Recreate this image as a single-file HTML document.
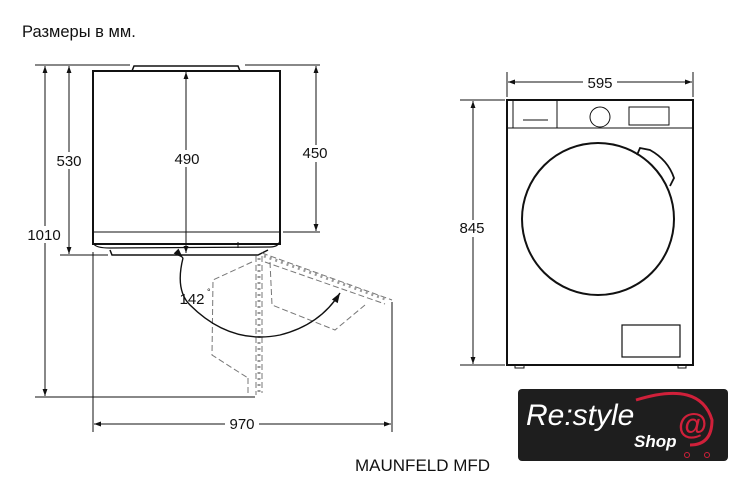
<!DOCTYPE html>
<html><head><meta charset="utf-8"><style>
body{margin:0;background:#fff;width:738px;height:495px;overflow:hidden;font-family:"Liberation Sans",sans-serif}
</style></head><body>
<svg width="738" height="495" viewBox="0 0 738 495" xmlns="http://www.w3.org/2000/svg" font-family="Liberation Sans, sans-serif">
<defs><marker id="a" viewBox="0 0 10 10" refX="10" refY="5" markerWidth="9" markerHeight="7" orient="auto-start-reverse"><path d="M0,1.5L10,5L0,8.5z" fill="#111"/></marker></defs>
<text x="22" y="37" font-size="16.5" fill="#111">Размеры в мм.</text>
<g stroke="#111" fill="none">
<path d="M132,71 L134,66 L238,66 L240,71" stroke-width="1.5"/>
<rect x="93" y="71" width="187" height="173" stroke-width="2"/>
<line x1="94" y1="232" x2="280" y2="232" stroke-width="1"/>
<path d="M94,244 Q96,248 110,248 L270,247 Q279,247 280,240" stroke-width="1.2"/>
<path d="M110,250 L112,255 L258,255 L268,250" stroke-width="1.5"/>
<line x1="238" y1="242" x2="238" y2="248" stroke-width="1"/>
<g stroke-width="1">
<line x1="35" y1="65" x2="130" y2="65"/>
<line x1="45" y1="66" x2="45" y2="396" marker-start="url(#a)" marker-end="url(#a)"/>
<line x1="69" y1="66" x2="69" y2="254" marker-start="url(#a)" marker-end="url(#a)"/>
<line x1="60" y1="255" x2="108" y2="255"/>
<line x1="186" y1="72" x2="186" y2="253" marker-start="url(#a)" marker-end="url(#a)"/>
<line x1="245" y1="65" x2="320" y2="65"/>
<line x1="316" y1="66" x2="316" y2="231" marker-start="url(#a)" marker-end="url(#a)"/>
<line x1="283" y1="232" x2="320" y2="232"/>
<line x1="35" y1="397" x2="255" y2="397"/>
<line x1="93" y1="252" x2="93" y2="432"/>
<line x1="392" y1="302" x2="392" y2="432"/>
<line x1="94" y1="424" x2="391" y2="424" marker-start="url(#a)" marker-end="url(#a)"/>
</g>
<g stroke="#777" stroke-width="1" stroke-dasharray="6,3">
<path d="M252,262 L213,280 L212,355 L248,378"/>
<path d="M256,256 L256,395 M262,256 L262,393"/>
<path d="M262,253 L392,300 M265,262 L385,304"/>
<path d="M270,262 L272,305 L335,330 L365,305"/>
<path d="M248,378 L248,393"/>
</g>
<g stroke="#999" stroke-width="3" stroke-dasharray="2,4">
<line x1="259" y1="258" x2="259" y2="393"/>
<line x1="264" y1="256" x2="388" y2="300"/>
</g>
<path d="M183,258 Q175,290 190,305 Q230,345 280,335 Q320,325 340,293" stroke-width="1.4" marker-end="url(#a)"/>
<path d="M183,258 L182,257" marker-start="url(#a)" stroke-width="1.4"/>
<rect x="507" y="100" width="186" height="265" stroke-width="2"/>
<line x1="508" y1="128" x2="692" y2="128" stroke-width="1"/>
<path d="M513,101 L513,128 M557,101 L557,128" stroke-width="1"/>
<line x1="523" y1="120" x2="548" y2="120" stroke-width="1"/>
<circle cx="600" cy="117" r="10" stroke-width="1"/>
<rect x="629" y="107" width="40" height="18" stroke-width="1"/>
<circle cx="598" cy="219" r="76" stroke-width="2"/>
<path d="M637,155 L640,148 L650,150 Q668,160 674,178 L670,186" stroke-width="1.8"/>
<rect x="622" y="325" width="58" height="32" stroke-width="1.2"/>
<rect x="515" y="365" width="9" height="3" stroke-width="1"/>
<rect x="678" y="365" width="8" height="3" stroke-width="1"/>
<g stroke-width="1">
<line x1="507" y1="72" x2="507" y2="97"/>
<line x1="693" y1="72" x2="693" y2="97"/>
<line x1="508" y1="82" x2="692" y2="82" marker-start="url(#a)" marker-end="url(#a)"/>
<line x1="460" y1="100" x2="505" y2="100"/>
<line x1="460" y1="365" x2="505" y2="365"/>
<line x1="473" y1="101" x2="473" y2="364" marker-start="url(#a)" marker-end="url(#a)"/>
</g>
</g>
<g font-size="15" fill="#111" text-anchor="middle">
<rect x="25" y="226" width="38" height="17" fill="#fff"/>
<text x="44" y="240">1010</text>
<rect x="55" y="152" width="30" height="17" fill="#fff"/>
<text x="69" y="166">530</text>
<rect x="171" y="150" width="32" height="17" fill="#fff"/>
<text x="187" y="164">490</text>
<rect x="299" y="145" width="32" height="17" fill="#fff"/>
<text x="315" y="158">450</text>
<rect x="225" y="416" width="34" height="17" fill="#fff"/>
<text x="242" y="429">970</text>
<text x="192" y="304">142</text>
<text x="207" y="295" font-size="9" text-anchor="start">°</text>
<rect x="583" y="74" width="34" height="17" fill="#fff"/>
<text x="600" y="88">595</text>
<rect x="457" y="220" width="32" height="17" fill="#fff"/>
<text x="472" y="233">845</text>
</g>
<text x="355" y="471" font-size="17" fill="#111">MAUNFELD MFD</text>
<rect x="518" y="389" width="210" height="72" rx="4" fill="#1e1e1e"/>
<text x="526" y="425" font-size="30" font-style="italic" fill="#fff">Re:style</text>
<text x="634" y="447" font-size="17" font-weight="bold" font-style="italic" fill="#fff">Shop</text>
<path d="M636,400 Q700,380 712,420 Q712,445 690,445" stroke="#d0203a" stroke-width="3" fill="none"/>
<text x="678" y="434" font-size="30" fill="#d0203a" font-weight="bold">@</text>
<circle cx="687" cy="455" r="2.5" fill="none" stroke="#d0203a"/>
<circle cx="707" cy="455" r="2.5" fill="none" stroke="#d0203a"/>
</svg>
</body></html>
